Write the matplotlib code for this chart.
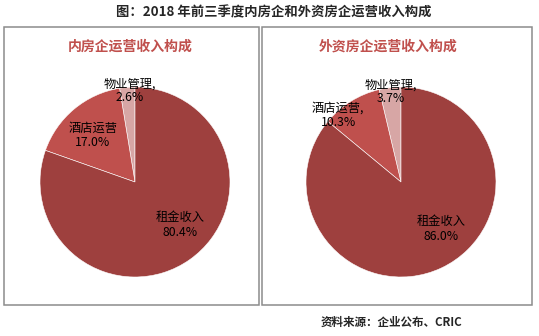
import matplotlib
matplotlib.use("Agg")
import matplotlib.pyplot as plt
from matplotlib.patches import Rectangle

plt.rcParams['font.family'] = ['Noto Sans CJK SC', 'DejaVu Sans']

# data
title = "图：2018 年前三季度内房企和外资房企运营收入构成"
source = "资料来源：企业公布、CRIC"
sub_titles = ["内房企运营收入构成", "外资房企运营收入构成"]
categories = ["物业管理", "酒店运营", "租金收入"]
domestic = [2.6, 17.0, 80.4]
foreign = [3.7, 10.3, 86.0]

colors = ["#D7A6A5", "#BF504D", "#9E403E"]
W, H = 539, 336

fig = plt.figure(figsize=(W / 100, H / 100), dpi=100)

def fx(px):
    return px / W

def fy(py):
    return 1 - py / H

# panel frames
for x0, x1 in [(4, 259), (262, 532)]:
    fig.patches.append(Rectangle((fx(x0), fy(305)), fx(x1) - fx(x0), fy(27) - fy(305),
                                 transform=fig.transFigure, fill=False,
                                 edgecolor="#8C8C8C", linewidth=1.1))

fig.text(fx(274), fy(12), title, ha="center", va="center", fontsize=9.6,
         fontweight="bold", color="#262626")
fig.text(fx(321), fy(322), source, ha="left", va="center", fontsize=8.3,
         fontweight="bold", color="#262626")

R = 95
panels = [
    (135, 182, domestic, sub_titles[0], 130,
     ["物业管理,", "酒店运营", "租金收入"], [(130, 91), (93, 135), (180, 225)]),
    (401, 182, foreign, sub_titles[1], 388,
     ["物业管理,", "酒店运营,", "租金收入"], [(391, 92), (338, 115), (441, 229)]),
]

for cx, cy, vals, sub, sx, names, pos in panels:
    ax = fig.add_axes([fx(cx - R), fy(cy + R), 2 * R / W, 2 * R / H])
    ax.pie(vals, colors=colors, startangle=90, counterclock=True, radius=1,
           wedgeprops=dict(edgecolor="white", linewidth=0.4))
    ax.set_xlim(-1, 1)
    ax.set_ylim(-1, 1)
    ax.axis("off")
    fig.text(fx(sx), fy(47), sub, ha="center", va="center", fontsize=10,
             fontweight="bold", color="#C0504D")
    for name, v, (px, py) in zip(names, vals, pos):
        fig.text(fx(px), fy(py), f"{name}\n{v:.1f}%", ha="center", va="center",
                 fontsize=8.8, fontweight="medium", color="black", linespacing=1.1)

fig.savefig("out.png", dpi=100)
